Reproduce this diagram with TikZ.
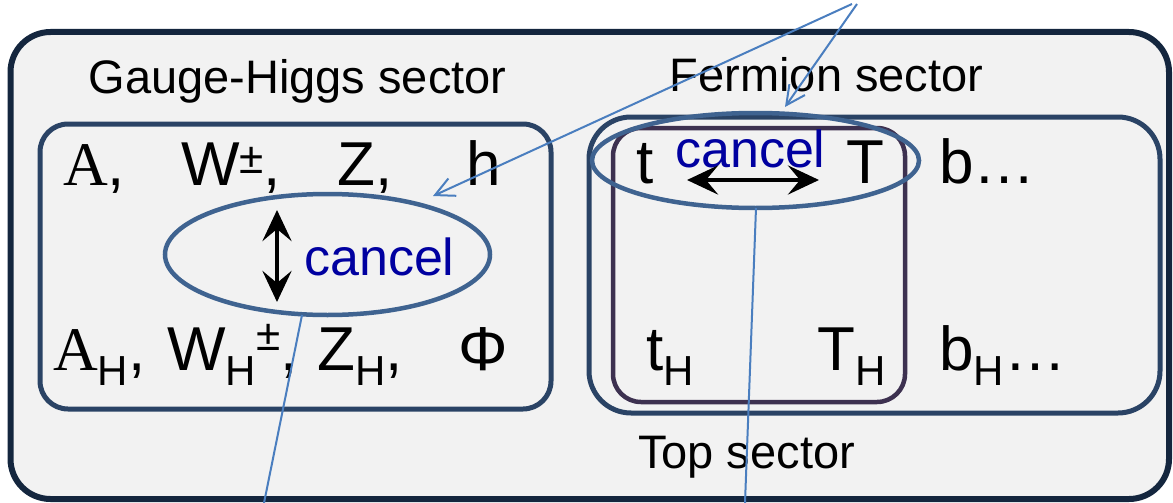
\documentclass[tikz,border=0pt]{standalone}
\usepackage{fontspec}
\setmainfont{Liberation Sans}
\newfontfamily\serifA{Liberation Serif}
\usetikzlibrary{shapes.geometric,arrows.meta}
\definecolor{bgfill}{HTML}{F2F2F2}
\definecolor{outerc}{RGB}{20,38,62}
\definecolor{boxc}{RGB}{42,67,101}
\definecolor{topc}{RGB}{61,49,80}
\definecolor{ellc}{RGB}{63,99,144}
\definecolor{linec}{RGB}{74,126,191}
\definecolor{cancelc}{RGB}{0,0,160}
\newcommand\fbig{\fontsize{62}{62}\selectfont}
\newcommand\ftitle{\fontsize{47}{47}\selectfont}
\newcommand\fsubsz{\fontsize{42}{42}\selectfont}
\newcommand\fcancel{\fontsize{52}{52}\selectfont}
\newcommand\subH{\raisebox{-15pt}{\fsubsz H}}
\newcommand\pmup[1]{\raisebox{#1}{\fontsize{44}{44}\selectfont ±}}
\begin{document}
\begin{tikzpicture}[x=1pt,y=-1pt,
  outerbox/.style={draw=outerc,line width=6pt,fill=bgfill,rounded corners=40pt,inner sep=0pt},
  sectorbox/.style={draw=boxc,line width=5pt,inner sep=0pt},
  topbox/.style={draw=topc,line width=4.5pt,rounded corners=28pt,inner sep=0pt},
  ellbox/.style={ellipse,draw=ellc,line width=4.5pt,inner sep=0pt},
  txt/.style={anchor=base west,inner sep=0pt,font=\fbig},
  title/.style={anchor=base,inner sep=0pt,font=\ftitle},
  canceltxt/.style={anchor=base west,inner sep=0pt,font=\fcancel,text=cancelc},
  dblarrow/.style={line width=4.5pt,{Stealth[length=31pt,width=29pt,inset=12pt]}-{Stealth[length=31pt,width=29pt,inset=12pt]}},
  pointer/.style={draw=linec,line width=2pt},
  pointertip/.style={pointer,-{Straight Barb[length=19pt,width=19pt]}}
]
\useasboundingbox (0,0) rectangle (1173,503);
% boxes
\node[outerbox,minimum width=1158.5pt,minimum height=467pt] (outer) at (589.75,265.5) {};
\node[sectorbox,rounded corners=28pt,minimum width=511pt,minimum height=285pt] (gauge) at (295.5,266.5) {};
\node[sectorbox,rounded corners=42pt,minimum width=571pt,minimum height=296pt] (ferm) at (874.5,265) {};
\node[topbox,minimum width=292pt,minimum height=274pt] (topb) at (759,265) {};
% ellipses
\node[ellbox,minimum width=325pt,minimum height=121pt] (ellL) at (327.5,254.5) {};
\node[ellbox,minimum width=327pt,minimum height=95pt] (ellR) at (755.5,160.5) {};
% titles
\node[title] (tg) at (297.5,93) {Gauge-Higgs sector};
\node[title] (tf) at (826.5,92) {Fermion sector};
\node[title] (tt) at (746.5,468) {Top sector};
% gauge-higgs particles
\node[txt] (pA) at (63,185) {{\serifA A},};
\node[txt] (pW) at (181,185) {W\pmup{12pt},};
\node[txt] (pZ) at (337,185) {Z,};
\node[txt] (ph) at (466,185) {h};
\node[txt] (pAH) at (53,370) {{\serifA A}\subH,};
\node[txt] (pWH) at (167,370) {W\subH\pmup{20pt},};
\node[txt] (pZH) at (317,370) {Z\subH,};
\node[txt,anchor=base] (pPhi) at (483.5,370) {Φ};
% fermions
\node[txt] (pt) at (636,183) {t};
\node[txt] (pT) at (846,183) {T};
\node[txt] (pb) at (939,183) {b…};
\node[txt] (ptH) at (646,370) {t\subH};
\node[txt] (pTH) at (817,370) {T\subH};
\node[txt] (pbH) at (939,370) {b\subH…};
% cancel labels
\node[canceltxt] (cL) at (304,275) {cancel};
\node[canceltxt] (cR) at (675,167) {cancel};
% double arrows
\coordinate (vT) at (277,210);
\coordinate (vB) at (277,302);
\draw[dblarrow] (vT) -- (vB);
\coordinate (hL) at (687,180);
\coordinate (hR) at (819,180);
\draw[dblarrow] (hL) -- (hR);
% pointer lines
\coordinate (src1) at (852,4);
\coordinate (src2) at (857,4);
\coordinate (tipL) at (433,196);
\coordinate (tipR) at (785,107);
\draw[pointertip] (src1) -- (tipL);
\draw[pointertip] (src2) -- (tipR);
\coordinate (botL) at (302,315);
\coordinate (endL) at (264,503);
\coordinate (botR) at (756,208);
\coordinate (endR) at (745,503);
\draw[pointer] (botL) -- (endL);
\draw[pointer] (botR) -- (endR);
\end{tikzpicture}
\end{document}
